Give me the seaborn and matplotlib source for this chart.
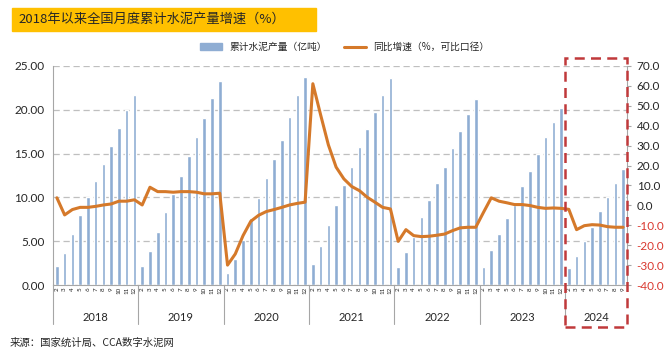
import numpy as np
import pandas as pd
import seaborn as sns
import matplotlib.pyplot as plt
from matplotlib.patches import Patch, Rectangle
from matplotlib.lines import Line2D

sns.set_style('white')
plt.rcParams['font.family'] = ['Lato', 'Noto Sans CJK SC', 'DejaVu Sans']

years = ['2018', '2019', '2020', '2021', '2022', '2023', '2024']
months_full = ['2', '3', '4', '5', '6', '7', '8', '9', '10', '11', '12']
months_2024 = ['2', '3', '4', '5', '6', '7', '8', '9']

# cumulative output, 100 million tonnes
out_2018 = [2.2, 3.7, 5.8, 8.0, 10.0, 11.9, 13.8, 15.9, 17.9, 20.0, 21.7]
out_2019 = [2.2, 3.9, 6.0, 8.3, 10.4, 12.5, 14.7, 16.9, 19.1, 21.3, 23.3]
out_2020 = [1.4, 3.0, 5.1, 7.6, 9.9, 12.2, 14.4, 16.6, 19.2, 21.7, 23.7]
out_2021 = [2.4, 4.4, 6.8, 9.1, 11.4, 13.5, 15.7, 17.8, 19.7, 21.7, 23.6]
out_2022 = [2.0, 3.8, 5.5, 7.8, 9.7, 11.7, 13.5, 15.6, 17.6, 19.5, 21.2]
out_2023 = [2.0, 4.0, 5.8, 7.7, 9.1, 11.3, 13.0, 14.9, 16.9, 18.6, 20.2]
out_2024 = [1.9, 3.3, 5.0, 6.6, 8.4, 10.0, 11.6, 13.2]

# year-on-year growth, %
g_2018 = [3.8, -4.8, -2.1, -1.0, -1.0, -0.5, 0.2, 0.7, 2.1, 2.1, 2.8]
g_2019 = [0.2, 9.1, 6.9, 6.9, 6.6, 6.9, 6.9, 6.6, 5.8, 5.8, 6.1]
g_2020 = [-30.0, -24.4, -15.2, -8.0, -5.0, -3.1, -2.1, -1.0, 0.2, 1.0, 1.6]
g_2021 = [61.1, 45.5, 30.4, 19.2, 13.3, 9.5, 7.4, 4.1, 1.6, -1.0, -1.8]
g_2022 = [-18.1, -12.2, -15.2, -15.7, -15.5, -15.0, -14.4, -12.7, -11.3, -11.0, -11.0]
g_2023 = [-3.5, 3.8, 2.1, 1.3, 0.4, 0.4, -0.1, -1.0, -1.5, -1.3, -1.5]
g_2024 = [-2.0, -12.2, -10.2, -9.7, -9.9, -10.7, -11.0, -11.0]

outs = [out_2018, out_2019, out_2020, out_2021, out_2022, out_2023, out_2024]
grows = [g_2018, g_2019, g_2020, g_2021, g_2022, g_2023, g_2024]
month_lists = [months_full] * 6 + [months_2024]

rows = []
for y, ms, o, g in zip(years, month_lists, outs, grows):
    for m, ov, gv in zip(ms, o, g):
        rows.append({'year': y, 'month': m, 'output': ov, 'growth': gv})
df = pd.DataFrame(rows)
df['idx'] = np.arange(len(df))
n = len(df)

bar_color = '#8FADD3'
line_color = '#D5792A'
grid_color = '#A6A6A6'

fig = plt.figure(figsize=(6.67, 3.6), dpi=100)
ax = fig.add_axes([53 / 667, 1 - 285 / 360, (627 - 53) / 667, 219 / 360])

sns.barplot(data=df, x='idx', y='output', color=bar_color, width=0.46,
            saturation=1, ax=ax)
ax.set_xlim(-0.5, n - 0.5)
ax.set_ylim(0, 25)
ax.set_yticks(np.arange(0, 26, 5))
ax.set_yticklabels(['%.2f' % v for v in np.arange(0, 26, 5)], fontsize=8.5)
ax.yaxis.grid(True, linestyle=(0, (5, 3)), color='#BFBFBF', lw=0.9)
ax.set_axisbelow(True)
ax.set_xlabel('')
ax.set_ylabel('')
ax.tick_params(axis='y', length=0, pad=6)

ax.set_xticks(df['idx'])
ax.set_xticklabels(df['month'], rotation=90, fontsize=4.5)
ax.tick_params(axis='x', which='major', length=0, pad=1.5)
ax.set_xticks(np.arange(-0.5, n), minor=True)
ax.tick_params(axis='x', which='minor', length=4, color=grid_color, width=0.7)

for s in ['top', 'right']:
    ax.spines[s].set_visible(False)
for s in ['left', 'bottom']:
    ax.spines[s].set_color(grid_color)
    ax.spines[s].set_linewidth(0.8)

# year labels and separators
xt = ax.get_xaxis_transform()
starts = df.groupby('year')['idx'].min()
ends = df.groupby('year')['idx'].max()
for y in years:
    ax.text((starts[y] + ends[y]) / 2, -0.15, y, transform=xt,
            ha='center', va='center', fontsize=8)
    ax.plot([starts[y] - 0.5] * 2, [0, -0.18], transform=xt, clip_on=False,
            color=grid_color, lw=0.8)

ax2 = ax.twinx()
sns.lineplot(data=df, x='idx', y='growth', color=line_color, lw=2.2, ax=ax2)
ax2.set_xlim(-0.5, n - 0.5)
ax2.set_ylim(-40, 70)
rt = np.arange(-40, 71, 10)
ax2.set_yticks(rt)
ax2.set_yticklabels(['%.1f' % v for v in rt], fontsize=8.5)
for lab, v in zip(ax2.get_yticklabels(), rt):
    if v < 0:
        lab.set_color('#D9382F')
ax2.set_ylabel('')
ax2.tick_params(axis='y', length=3, color=grid_color, pad=4)
for s in ['top', 'left', 'bottom']:
    ax2.spines[s].set_visible(False)
ax2.spines['right'].set_color(grid_color)
ax2.spines['right'].set_linewidth(0.8)

# dashed box around 2024
x0 = starts['2024'] - 0.5
box = Rectangle((x0, -0.192), n - 0.5 - x0, 1.229, transform=ax2.get_xaxis_transform(),
                fill=False, ec='#C0393B', lw=1.8, ls=(0, (4, 2.5)), clip_on=False, zorder=5)
ax2.add_patch(box)

# title bar
fig.patches.append(Rectangle((12 / 667, 1 - 31 / 360), 304 / 667, 23 / 360,
                             transform=fig.transFigure, color='#FFC000', zorder=0))
fig.text(18 / 667, 1 - 19.5 / 360, '2018年以来全国月度累计水泥产量增速（%）',
         fontsize=9.5, va='center', ha='left', family=['Noto Sans CJK SC', 'DejaVu Sans'])

handles = [Patch(color=bar_color), Line2D([], [], color=line_color, lw=2.2)]
fig.legend(handles, ['累计水泥产量（亿吨）', '同比增速（%，可比口径）'],
           loc='center', bbox_to_anchor=(345 / 667, 1 - 47 / 360), ncol=2,
           frameon=False, handlelength=2.2, handleheight=0.6,
           columnspacing=1.8, prop={'family': ['Noto Sans CJK SC', 'DejaVu Sans'], 'size': 7})

fig.text(10 / 667, 1 - 343 / 360, '来源：国家统计局、CCA数字水泥网', fontsize=7.5,
         va='center', ha='left', family=['Noto Sans CJK SC', 'DejaVu Sans'])

fig.savefig('out.png', dpi=100)
